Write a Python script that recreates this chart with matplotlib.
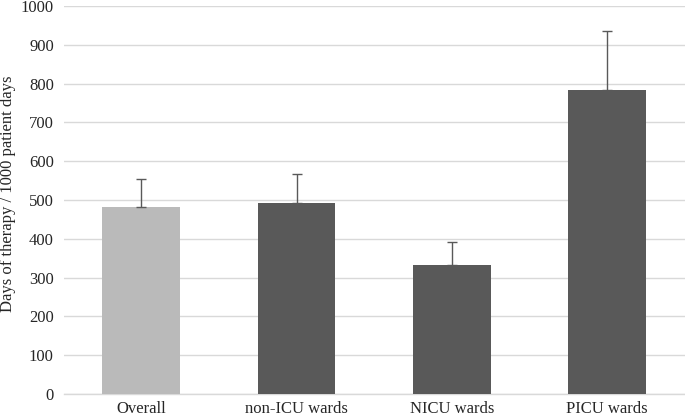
import matplotlib

matplotlib.use("Agg")

import matplotlib.pyplot as plt
import numpy as np

categories = ["Overall", "non-ICU wards", "NICU wards", "PICU wards"]
dot_values = [481, 493, 332, 783]
err_upper = [73, 73, 61, 153]
bar_colors = ["#BABABA", "#595959", "#595959", "#595959"]

plt.rcParams["font.family"] = ["Liberation Serif", "DejaVu Serif"]

fig = plt.figure(figsize=(6.85, 4.16), dpi=100)
ax = fig.add_axes([63.5 / 685, 22 / 416, 1 - 63.5 / 685, 388 / 416])

x = np.arange(len(categories))
ax.bar(x, dot_values, width=0.5, color=bar_colors, zorder=3)
ax.errorbar(
    x,
    dot_values,
    yerr=[np.zeros(len(x)), err_upper],
    fmt="none",
    ecolor="#595959",
    elinewidth=1.0,
    capsize=3.5,
    capthick=1.0,
    zorder=4,
)

ax.set_xlim(-0.5, len(categories) - 0.5)
ax.set_ylim(0, 1000)
ax.set_yticks(np.arange(0, 1001, 100))
ax.set_xticks(x)
ax.set_xticklabels(categories)
ax.grid(axis="y", color="#D9D9D9", linewidth=1.0, zorder=0)
for side in ("left", "right", "top"):
    ax.spines[side].set_visible(False)
ax.spines["bottom"].set_color("#D9D9D9")
ax.spines["bottom"].set_linewidth(1.0)
ax.tick_params(axis="both", length=0, labelsize=12, colors="#262626")
ax.tick_params(axis="x", pad=5)
ax.tick_params(axis="y", pad=7)
ax.set_ylabel("Days of therapy / 1000 patient days", fontsize=12, color="#262626")
# ylabel anchor is its right edge once rotated
ax.yaxis.set_label_coords(-0.076, 0.515)

fig.savefig("out.png", dpi=100, facecolor="white")
